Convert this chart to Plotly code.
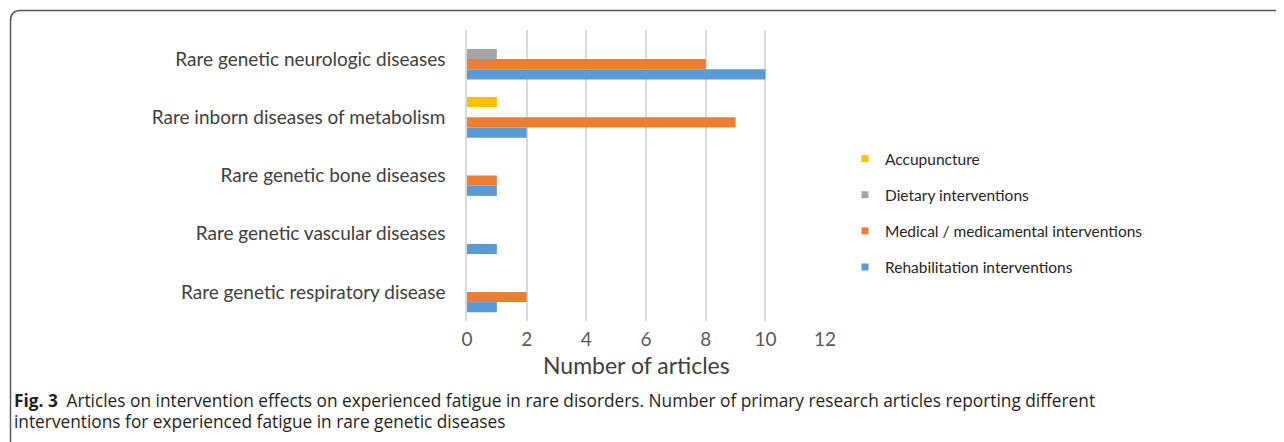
import plotly.graph_objects as go

# ---- data ----
categories = [
    "Rare genetic respiratory disease",
    "Rare genetic vascular diseases",
    "Rare genetic bone diseases",
    "Rare inborn diseases of metabolism",
    "Rare genetic neurologic diseases",
]
rehabilitation = [1, 1, 1, 2, 10]
medical = [2, 0, 1, 9, 8]
dietary = [0, 0, 0, 0, 1]
accupuncture = [0, 0, 0, 1, 0]

series_names = [
    "Rehabilitation interventions",
    "Medical / medicamental interventions",
    "Dietary interventions",
    "Accupuncture",
]
series_values = [rehabilitation, medical, dietary, accupuncture]
series_colors = ["#5B9BD5", "#ED7D31", "#A5A5A5", "#FFC000"]

x_ticks = [0, 2, 4, 6, 8, 10, 12]
x_title = "Number of articles"
caption_line1 = ("<b>Fig. 3</b>\u2002Articles on intervention effects on experienced fatigue in rare disorders. "
                 "Number of primary research articles reporting different")
caption_line2 = "interventions for experienced fatigue in rare genetic diseases"

# ---- geometry (screen pixels; page body has an 8px margin) ----
OFF = 8
W, H = 1284 - OFF, 442 - OFF
SPL, SPR, SPT, SPB = 467, 826, 30, 321   # plot area in screen px
PL, PR, PT, PB = SPL - OFF, SPR - OFF, SPT - OFF, SPB - OFF


def px_x(p):
    return (p - OFF - PL) / (PR - PL)


def px_y(p):
    return (PB - (p - OFF)) / (PB - PT)


fig = go.Figure()
for name, vals, col in zip(series_names, series_values, series_colors):
    fig.add_trace(go.Bar(
        y=categories, x=vals, orientation="h", name=name,
        marker=dict(color=col, line=dict(width=0)),
        showlegend=False,
    ))
# legend entries (small square markers like the original), top to bottom
for name, col in reversed(list(zip(series_names, series_colors))):
    fig.add_trace(go.Scatter(
        x=[None], y=[None], mode="markers", name=name, legendgroup=name,
        marker=dict(symbol="square", size=7, color=col),
    ))

fig.update_layout(
    width=W, height=H,
    margin=dict(l=PL, r=W - PR, t=PT, b=H - PB, autoexpand=False),
    paper_bgcolor="white", plot_bgcolor="white",
    barmode="group", bargap=0.3, bargroupgap=0,
    font=dict(family="Lato", color="#404040"),
    showlegend=True,
    legend=dict(
        x=px_x(845), y=px_y(142), xanchor="left", yanchor="top",
        traceorder="grouped", tracegroupgap=13,
        font=dict(family="Lato", size=15.5, color="#262626"),
        bgcolor="rgba(0,0,0,0)", itemwidth=30,
    ),
    xaxis=dict(
        range=[0, 12.03], tickvals=x_ticks, showgrid=True, gridcolor="#D9D9D9",
        gridwidth=1.5, zeroline=False, showline=False,
        tickfont=dict(family="Lato", size=19, color="#595959"),
        ticks="", ticklabelstandoff=5,
        fixedrange=True,
    ),
    yaxis=dict(
        categoryorder="array", categoryarray=categories,
        showline=True, linecolor="#D9D9D9", linewidth=1.5,
        showgrid=False, ticks="", ticklabelstandoff=16,
        tickfont=dict(family="Lato", size=19, color="#404040"),
        fixedrange=True,
    ),
)

# x-axis title
fig.add_annotation(text=x_title, xref="paper", yref="paper",
                   x=px_x(636), y=px_y(365), xanchor="center", yanchor="middle",
                   showarrow=False, font=dict(family="Lato", size=23, color="#404040"))

# caption
fig.add_annotation(text=caption_line1, xref="paper", yref="paper",
                   x=px_x(12), y=px_y(400), xanchor="left", yanchor="middle",
                   showarrow=False, font=dict(family="Open Sans", size=17.3, color="#231F20"))
fig.add_annotation(text=caption_line2, xref="paper", yref="paper",
                   x=px_x(12), y=px_y(421), xanchor="left", yanchor="middle",
                   showarrow=False, font=dict(family="Open Sans", size=17.3, color="#231F20"))

# frame with rounded top-left corner
r = 10
x0, y0 = 10.5, 10.5
path = (f"M {px_x(x0)},{px_y(470)} L {px_x(x0)},{px_y(y0 + r)} "
        f"Q {px_x(x0)},{px_y(y0)} {px_x(x0 + r)},{px_y(y0)} L {px_x(1310)},{px_y(y0)}")
fig.add_shape(type="path", path=path, xref="paper", yref="paper",
              line=dict(color="#58595B", width=1.5))

fig.write_html("out.html")
